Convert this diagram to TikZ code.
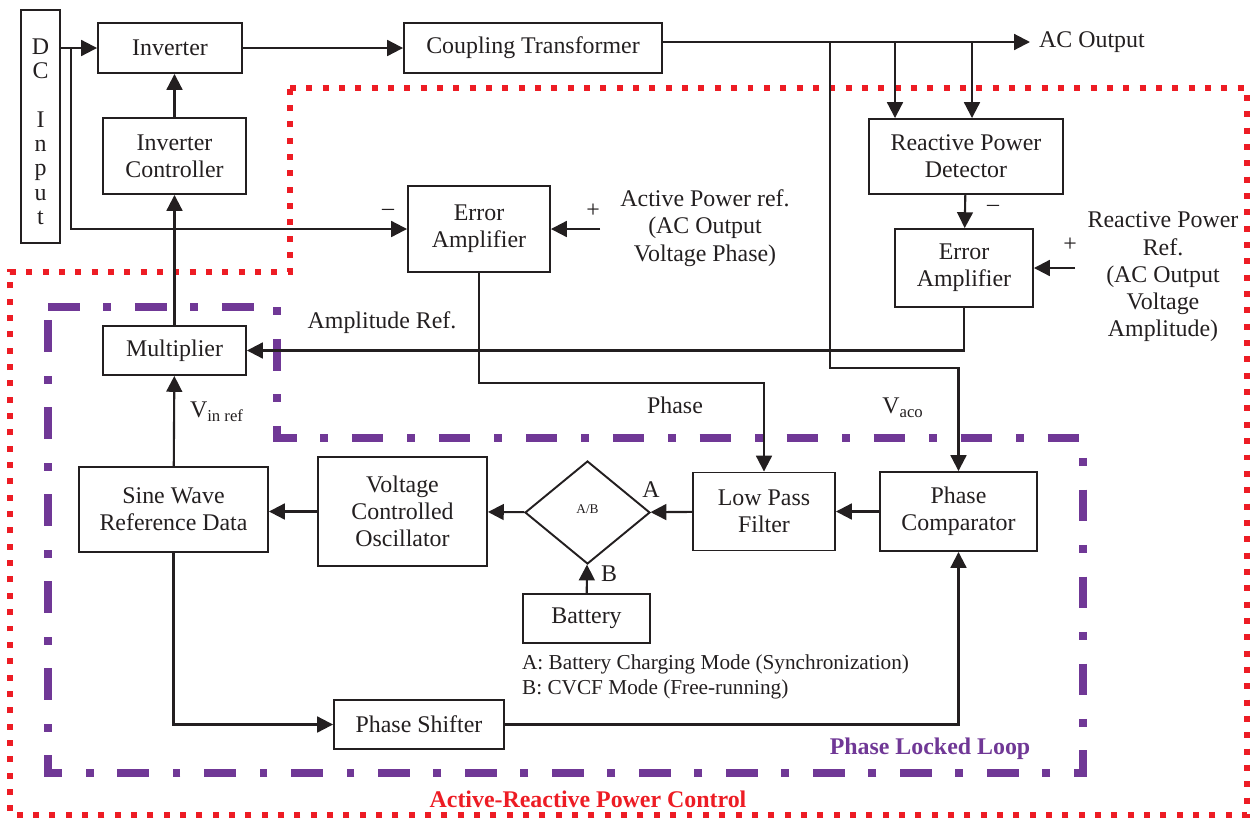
\documentclass[tikz,border=0pt]{standalone}
\usepackage{fontspec}
\setmainfont{Liberation Serif}
\usepackage{xcolor}
\usetikzlibrary{arrows.meta,positioning,shapes,calc}
\definecolor{pllpurple}{RGB}{112,56,150}
\definecolor{arpred}{RGB}{237,28,36}
\definecolor{inkgray}{RGB}{35,31,32}

\begin{document}
\begin{tikzpicture}[
  x=0.02cm, y=-0.02cm,
  block/.style={draw=inkgray, line width=1.1pt, align=center, inner sep=1pt, text=inkgray, font=\fontsize{13.6}{15.5}\selectfont},
  lbl/.style={align=center, inner sep=1pt, text=inkgray, font=\fontsize{13.6}{15.5}\selectfont},
  conn/.style={draw=inkgray, line width=1.2pt, -{Triangle[length=9pt,width=9pt]}},
  arpbound/.style={draw=arpred, line width=3.4pt, dash pattern=on 3.4pt off 5.9pt},
  pllbound/.style={draw=pllpurple, line width=4pt, dash pattern=on 18pt off 13.5pt on 4.5pt off 13.5pt}
]
\useasboundingbox (0,0) rectangle (1252,819);

\draw[arpbound] (290,88) -- (1247,88) -- (1247,815) -- (10,815) -- (10,272) -- (290,272) -- cycle;
\draw[pllbound] (48,307) -- (277,307) -- (277,438) -- (1083,438) -- (1083,773) -- (48,773) -- cycle;

\node [block, minimum width=0.78cm, minimum height=4.66cm, font=\fontsize{13.6}{13.8}\selectfont] (dcin) at (40.5,126.5) {\rule{0pt}{15pt}D\\C\\[13.8pt]I\\n\\p\\u\\t};
\node [block, minimum width=2.88cm, minimum height=1cm] (inv) at (170,48) {Inverter};
\node [block, minimum width=2.86cm, minimum height=1.52cm] (invctrl) at (174.5,156) {Inverter\\Controller};
\node [block, minimum width=5.16cm, minimum height=1cm] (coupl) at (533,48) {Coupling Transformer};
\node [block, minimum width=2.84cm, minimum height=1.72cm] (erramp1) at (479,229) {Error\\Amplifier};
\node [block, minimum width=3.88cm, minimum height=1.5cm] (rpdet) at (966,156.5) {Reactive Power\\Detector};
\node [block, minimum width=2.76cm, minimum height=1.56cm] (erramp2) at (964,268) {Error\\Amplifier};
\node [block, minimum width=2.86cm, minimum height=0.98cm] (mult) at (174.5,350.5) {Multiplier};
\node [block, minimum width=3.78cm, minimum height=1.7cm] (swrd) at (173.5,509.5) {Sine Wave\\Reference Data};
\node [block, minimum width=3.38cm, minimum height=2.18cm] (vco) at (402.5,511.5) {Voltage\\Controlled\\Oscillator};
\node [block, diamond, aspect=1.21, minimum width=2.5cm, minimum height=2.06cm, inner sep=0pt, font=\fontsize{7.6}{9}\selectfont] (switch) at (587.5,512.5) {\raisebox{4pt}{A/B}};
\node [block, minimum width=2.84cm, minimum height=1.56cm] (lpf) at (764,511.5) {Low Pass\\Filter};
\node [block, minimum width=3.14cm, minimum height=1.58cm] (phcomp) at (958.5,511.5) {Phase\\Comparator};
\node [block, minimum width=2.54cm, minimum height=0.98cm] (battery) at (586.5,618.5) {Battery};
\node [block, minimum width=3.4cm, minimum height=0.98cm] (shifter) at (419,724.5) {Phase Shifter};

\coordinate (dcjoin) at (71,48);
\coordinate (acout) at (1030,42);
\coordinate (tapa) at (895,42);
\coordinate (tapb) at (972,42);
\coordinate (tapc) at (830,42);
\coordinate (pref) at (600,229);
\coordinate (qref) at (1075,268);

\draw[conn] (dcin.east |- inv.west) -- (inv.west);
\draw[conn] (dcjoin) |- (erramp1.west);
\draw[conn] (invctrl.north) -- (invctrl.north |- inv.south);
\draw[conn] (mult) -- (invctrl);
\draw[conn] (inv) -- (coupl);
\draw[conn] (coupl.east |- acout) -- (acout);
\node [lbl, right=4pt of acout] (aclbl) {AC Output};
\draw[conn] (tapa) -- (tapa |- rpdet.north);
\draw[conn] (tapb) -- (tapb |- rpdet.north);
\draw[conn] (tapc) -- ++(0,326) -| (phcomp.north);
\draw[conn] (rpdet) -- (erramp2);
\draw[conn] (qref) -- (erramp2.east);
\draw[conn] (erramp2.south) |- (mult.east);
\draw[conn] (pref) -- (erramp1.east);
\draw[conn] (erramp1.south) -- ++(0,110) -| (lpf.north);
\draw[conn] (phcomp) -- (lpf);
\draw[conn] (lpf) -- (switch);
\draw[conn] (switch) -- (vco);
\draw[conn] (vco.west) -- (vco.west -| swrd.east);
\draw[conn] (swrd) -- (mult);
\draw[conn] (battery) -- (switch);
\draw[conn] (swrd.south) |- (shifter.west);
\draw[conn] (shifter.east) -| (phcomp.south);

\node [lbl] at (388,212) {–};
\node [lbl] at (593,211) {+};
\node [lbl] at (993,208) {–};
\node [lbl] at (1070,245) {+};
\node [lbl] at (705,228) {Active Power ref.\\(AC Output\\Voltage Phase)};
\node [lbl] at (1163,277) {Reactive Power\\Ref.\\(AC Output\\Voltage\\Amplitude)};
\node [lbl] at (382,323) {Amplitude Ref.};
\node [lbl] at (675,405) {Phase};
\node [lbl] at (903,408) {V\textsubscript{aco}};
\node [lbl] at (217,412) {V\textsubscript{in ref}};
\node [lbl] at (651,490) {A};
\node [lbl] at (609,574) {B};
\node [lbl, anchor=west, align=left, font=\fontsize{12.1}{14.2}\selectfont] at (520,677) {A: Battery Charging Mode (Synchronization)\\B: CVCF Mode (Free-running)};
\node [lbl, text=pllpurple, font=\fontsize{13.6}{15.5}\selectfont\bfseries] at (930,749) {Phase Locked Loop};
\node [lbl, text=arpred, font=\fontsize{13.6}{15.5}\selectfont\bfseries] at (588,799) {Active-Reactive Power Control};
\end{tikzpicture}
\end{document}
